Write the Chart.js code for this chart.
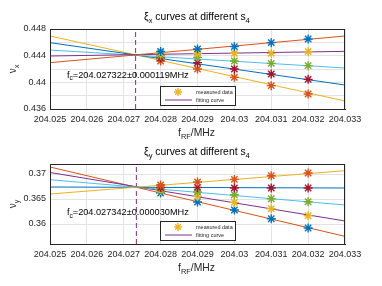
<!DOCTYPE html>
<html>
<head>
<meta charset="utf-8">
<script src="https://cdn.jsdelivr.net/npm/chart.js@4/dist/chart.umd.min.js"></script>
<style>
html,body{margin:0;padding:0;background:#fff;}
canvas{display:block;}
</style>
</head>
<body>
<canvas id="c1" width="382" height="143"></canvas>
<canvas id="c2" width="382" height="143"></canvas>
<script>
// ---- shared axis data ----
const xTicks = [204.025, 204.026, 204.027, 204.028, 204.029, 204.030, 204.031, 204.032, 204.033];
const xMeas = [204.028, 204.029, 204.030, 204.031, 204.032];
const fitX = [204.025, 204.033];

// ---- top panel (nu_x) ----
const yTicksX = [0.436, 0.438, 0.440, 0.442, 0.444, 0.446, 0.448];
const yLabelsX = [0.436, 0.44, 0.444, 0.448];
const fcX = 204.027322;
const fcTextX = "=204.027322\u00b10.000119MHz";
const measX1 = [0.44463, 0.4450, 0.44535, 0.44595, 0.4465];
const measX2 = [0.4444, 0.44435, 0.44435, 0.44435, 0.4446];
const measX3 = [0.44403, 0.44375, 0.4432, 0.44285, 0.4425];
const measX4 = [0.44365, 0.44295, 0.4420, 0.44125, 0.44045];
const measX5 = [0.4432, 0.4420, 0.44075, 0.4395, 0.43825];
const fitX1 = [0.44295, 0.44695];
const fitX2 = [0.44395, 0.44465];
const fitX3 = [0.44485, 0.44215];
const fitX4 = [0.44595, 0.4396];
const fitX5 = [0.44695, 0.4372];

// ---- bottom panel (nu_y) ----
const yTicksY = [0.36, 0.365, 0.37];
const yLabelsY = [0.36, 0.365, 0.37];
const fcY = 204.027342;
const fcTextY = "=204.027342\u00b10.000030MHz";
const measY1 = [0.3678, 0.3684, 0.36892, 0.36966, 0.3702];
const measY2 = [0.3673, 0.36732, 0.3672, 0.3672, 0.3672];
const measY3 = [0.3669, 0.3664, 0.36586, 0.36506, 0.36446];
const measY4 = [0.3667, 0.36552, 0.36432, 0.36306, 0.36166];
const measY5 = [0.3662, 0.3644, 0.3628, 0.36106, 0.3592];
const fitY1 = [0.3660, 0.37066];
const fitY2 = [0.3674, 0.3672];
const fitY3 = [0.36886, 0.3638];
const fitY4 = [0.3703, 0.3606];
const fitY5 = [0.3714, 0.35752];

const C = {blue:'#0072BD', red:'#D95319', yellow:'#EDB120', purple:'#7E2F8E', green:'#77AC30', cyan:'#4DBEEE', maroon:'#A2142F'};
const TXT = '#262626';
const FONT = '"Liberation Sans", Arial, Helvetica, sans-serif';

function pts(xs, ys){ return xs.map((x,i)=>({x:x, y:ys[i]})); }

function fitDs(ys, color){
  return {data: pts(fitX, ys), showLine:true, borderColor:color, borderWidth:1, pointRadius:0, order:2};
}
function measDs(ys, color){
  return {data: pts(xMeas, ys), showLine:false, pointStyle:'star', pointRadius:4.5, pointBorderWidth:1.4,
          borderColor:color, backgroundColor:color, order:1};
}

function measureRich(ctx, parts, size){
  let w = 0;
  parts.forEach(p => {
    ctx.font = (p.sub ? size*0.72 : size) + 'px ' + FONT;
    p.w = ctx.measureText(p.t).width; w += p.w;
  });
  return w;
}
function drawRich(ctx, parts, x, y, size, align, target){
  let w = measureRich(ctx, parts, size);
  if (target) { size = size * target / w; w = measureRich(ctx, parts, size); }
  let cx = align === 'center' ? x - w/2 : (align === 'right' ? x - w : x);
  ctx.textBaseline = 'middle';
  ctx.textAlign = 'left';
  parts.forEach(p => {
    ctx.font = (p.sub ? size*0.72 : size) + 'px ' + FONT;
    ctx.fillText(p.t, cx, p.sub ? y + size*0.38 : y);
    cx += p.w;
  });
}

function star(ctx, mx, my, r){
  for (let k=0;k<4;k++){
    const ang = k*Math.PI/4;
    ctx.beginPath();
    ctx.moveTo(mx - r*Math.cos(ang), my - r*Math.sin(ang));
    ctx.lineTo(mx + r*Math.cos(ang), my + r*Math.sin(ang));
    ctx.stroke();
  }
}

const decor = {
  id: 'decor',
  afterDraw(chart, args, o){
    const ctx = chart.ctx, a = chart.chartArea;
    const xs = chart.scales.x, ys = chart.scales.y;
    ctx.save();
    // box
    ctx.strokeStyle = TXT; ctx.lineWidth = 1;
    ctx.strokeRect(Math.round(a.left)+0.5, Math.round(a.top)+0.5, Math.round(a.right-a.left)-1, Math.round(a.bottom-a.top));
    ctx.fillStyle = '#000';
    // title
    drawRich(ctx, [{t:'\u03be'},{t:o.sub,sub:true},{t:' curves at different s'},{t:'4',sub:true}],
             144, o.titleY, 10, 'left', 106);
    // x title
    ctx.fillStyle = TXT;
    drawRich(ctx, [{t:'f'},{t:'RF',sub:true},{t:'/MHz'}], 178, a.bottom + 24, 9.5, 'left', 37);
    // y title (rotated)
    ctx.save();
    ctx.translate(13, (a.top+a.bottom)/2);
    ctx.rotate(-Math.PI/2);
    drawRich(ctx, [{t:'\u03bd'},{t:o.sub,sub:true}], 0, 0, 10, 'center');
    ctx.restore();
    // annotation
    ctx.fillStyle = '#000';
    drawRich(ctx, [{t:'f'},{t:'c',sub:true},{t:o.fcText}], xs.getPixelForValue(o.annX), ys.getPixelForValue(o.annY), 9, 'left', 122);
    // legend
    const lx = a.left + 110, ly = a.top + o.legTop, lw = 75, lh = 19;
    ctx.fillStyle = '#fff';
    ctx.fillRect(lx, ly, lw, lh);
    ctx.strokeStyle = TXT; ctx.lineWidth = 1;
    ctx.strokeRect(lx+0.5, ly+0.5, lw, lh);
    const mx = lx + 18, my = ly + 6;
    ctx.strokeStyle = C.yellow; ctx.lineWidth = 1.4;
    star(ctx, mx, my, 4);
    ctx.strokeStyle = C.purple; ctx.lineWidth = 1;
    ctx.beginPath(); ctx.moveTo(lx+5, ly+14); ctx.lineTo(lx+32, ly+14); ctx.stroke();
    ctx.fillStyle = TXT;
    ctx.font = '5.5px ' + FONT; ctx.textAlign = 'left'; ctx.textBaseline = 'middle';
    ctx.fillText('measured data', lx+36, my);
    ctx.fillText('fitting curve', lx+36, ly+14);
    ctx.restore();
  }
};

function fmt(v){ return String(parseFloat(Number(v).toFixed(3))); }

function makeChart(id, cfg){
  const datasets = [
    {data:[{x:cfg.fc, y:cfg.ymin},{x:cfg.fc, y:cfg.ymax}], showLine:true, borderColor:C.purple, borderWidth:1,
     borderDash:[5,3], pointRadius:0, order:3},
  ].concat(cfg.fits.map(f => fitDs(f[0], f[1]))).concat(cfg.meas.map(m => measDs(m[0], m[1])));
  return new Chart(document.getElementById(id), {
    type: 'scatter',
    data: {datasets: datasets},
    options: {
      responsive:false, animation:false, devicePixelRatio:1,
      layout:{padding:{top:cfg.padTop, right:37, left:0, bottom:0}},
      plugins:{legend:{display:false}, tooltip:{enabled:false},
        decor:{sub:cfg.sub, titleY:cfg.titleY, fcText:cfg.fcText, annX:cfg.annX, annY:cfg.annY, legTop:cfg.legTop}},
      scales:{
        x:{type:'linear', min:204.025, max:204.033,
           afterBuildTicks: s => { s.ticks = xTicks.map(v => ({value:v})); },
           afterFit: s => { s.height = cfg.xH; },
           grid:{color:'#e3e3e3', drawTicks:false}, border:{color:TXT},
           ticks:{color:TXT, padding:5, maxRotation:0, autoSkip:false, font:{family:FONT, size:9},
                  callback: v => fmt(v)}},
        y:{type:'linear', min:cfg.ymin, max:cfg.ymax,
           afterBuildTicks: s => { s.ticks = cfg.yTicks.map(v => ({value:v})); },
           afterFit: s => { s.width = 50; },
           grid:{color:'#e3e3e3', drawTicks:false}, border:{color:TXT},
           ticks:{color:TXT, padding:4, autoSkip:false, font:{family:FONT, size:9},
                  callback: v => cfg.yLabels.some(l => Math.abs(l - v) < 1e-7) ? fmt(v) : ''}}
      }
    },
    plugins:[decor]
  });
}

makeChart('c1', {
  sub:'x', titleY:17, padTop:29, xH:34, ymin:0.436, ymax:0.448, yTicks:yTicksX, yLabels:yLabelsX,
  fc:fcX, fcText:fcTextX, annX:204.02546, annY:0.4411, legTop:57,
  fits:[[fitX1,C.red],[fitX2,C.purple],[fitX3,C.cyan],[fitX4,C.blue],[fitX5,C.yellow]],
  meas:[[measX1,C.blue],[measX2,C.yellow],[measX3,C.green],[measX4,C.maroon],[measX5,C.red]]
});
makeChart('c2', {
  sub:'y', titleY:9, padTop:21, xH:42, ymin:0.356, ymax:0.372, yTicks:yTicksY, yLabels:yLabelsY,
  fc:fcY, fcText:fcTextY, annX:204.02546, annY:0.36226, legTop:57,
  fits:[[fitY1,C.yellow],[fitY2,C.blue],[fitY3,C.cyan],[fitY4,C.purple],[fitY5,C.red]],
  meas:[[measY1,C.red],[measY2,C.maroon],[measY3,C.green],[measY4,C.yellow],[measY5,C.blue]]
});
</script>
</body>
</html>
